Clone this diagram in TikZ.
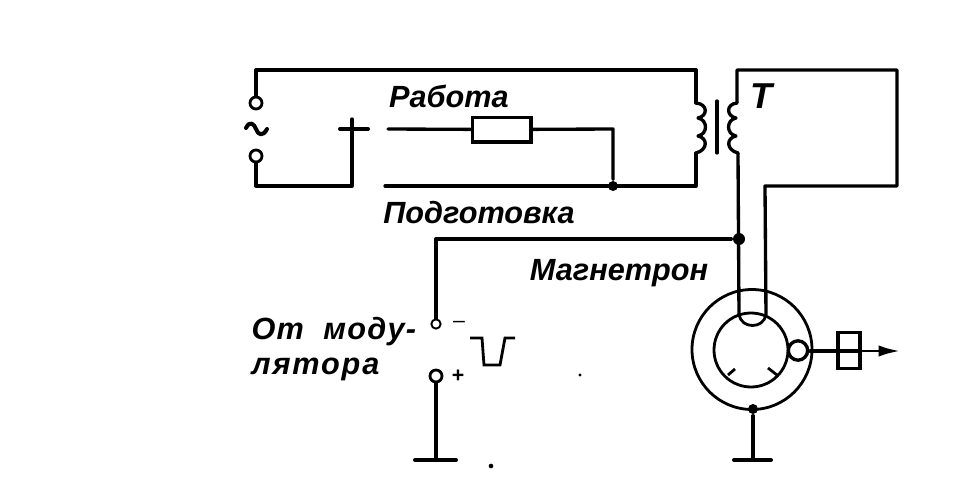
\documentclass[tikz,border=0pt]{standalone}
\usepackage{fontspec}
\setmainfont{Liberation Sans}
\usetikzlibrary{arrows.meta}
\tikzset{every picture/.style={line width=2.5pt}}
\tikzset{
  wire/.style={line width=2.5pt,line join=round,line cap=round},
  thinwire/.style={line width=2.1pt},
  contact/.style={circle,draw,fill=white,line width=2.1pt,minimum size=9pt,inner sep=0pt},
  smallcontact/.style={contact,line width=1.4pt,minimum size=7pt},
  junction/.style={circle,fill=black,minimum size=7.5pt,inner sep=0pt},
  plate/.style={rectangle,draw,line width=2.5pt,inner sep=0pt},
  speck/.style={circle,fill=black,minimum size=2.5pt,inner sep=0pt},
  lettering/.style={inner sep=0pt,font=\fontsize{23}{26}\selectfont\bfseries\itshape},
}

\begin{document}
\begin{tikzpicture}[x=0.75pt,y=0.75pt,yscale=-1,xscale=1]
\useasboundingbox (0,0) rectangle (976,496);

%Points of the supply side
\coordinate (topleft) at (256,70);
\coordinate (botleft) at (256,186);
\coordinate (botswitch) at (352,186);
\coordinate (switchtop) at (352,119);
\coordinate (crossl) at (340,129);
\coordinate (crossr) at (368,129);
\coordinate (workin) at (388,129);
\coordinate (workcorner) at (613,129);
\coordinate (prepin) at (385,186);
\coordinate (primtop) at (696,70);
\coordinate (primup) at (696,103);
\coordinate (primdown) at (696,153);
\coordinate (primbot) at (696,186);
%Points of the secondary side
\coordinate (sectop) at (737,70);
\coordinate (secup) at (737,103);
\coordinate (secdown) at (738,153);
\coordinate (secright) at (897,70);
\coordinate (secrbot) at (897,186);
\coordinate (tubecorner) at (765,186);
\coordinate (heatl) at (739,315);
\coordinate (heatr) at (766,315);
\coordinate (modcorner) at (436,239);
\coordinate (coreup) at (717,101);
\coordinate (coredown) at (717,153);
\coordinate (gndone) at (436,460);
\coordinate (gndonel) at (415,460);
\coordinate (gndoner) at (456,460);
\coordinate (gndtwo) at (753,460);
\coordinate (gndtwol) at (734,460);
\coordinate (gndtwor) at (771,460);
\coordinate (outstart) at (810,351);
\coordinate (outend) at (900,351);

%Terminals, joints and boxes
\node [contact] (acup) at (256,103) {};
\node [contact] (acdown) at (256,156) {};
\node [plate,minimum width=44pt,minimum height=18.5pt] (resistor) at (501.5,129.5) {};
\node [junction] (prepjoint) at (613,186) {};
\node [junction,minimum size=9pt] (modjoint) at (739,239) {};
\node [smallcontact] (modminus) at (436,324) {};
\node [contact] (modplus) at (436,376) {};
\node [junction] (anodejoint) at (753,409) {};
\node [circle,draw,line width=2.1pt,minimum size=90pt,inner sep=0pt] (anode) at (752,349.5) {};
\node [circle,draw,line width=2.1pt,minimum size=55.5pt,inner sep=0pt] (cavity) at (751,350) {};
\node [circle,draw,line width=2.5pt,minimum size=14.5pt,inner sep=0pt] (loop) at (798,350.5) {};
\node [plate,minimum width=16.5pt,minimum height=27pt] (window) at (849,350.5) {};
\node [speck] (speckone) at (580,375) {};
\node [speck,minimum size=3.5pt] (specktwo) at (491,466) {};

%Supply loop
\draw [wire] (acup) -- (topleft) -- (primtop) -- (primup);
\draw [wire] (acdown) -- (botleft) -- (botswitch) -- (switchtop);
\draw [wire,line width=3pt] (crossl) -- (crossr);
\draw [wire] (workin) -- (resistor);
\draw [wire] (resistor) -- (workcorner) -- (prepjoint);
\draw [wire] (prepin) -- (primbot) -- (primdown);

%Transformer windings
\draw [wire] (primup) .. controls (708,104) and (708,116) .. (698,118) .. controls (708,120) and (708,134) .. (698,136) .. controls (708,138) and (708,150) .. (primdown);
\draw [wire] (secup) .. controls (726,104) and (726,116) .. (736,118) .. controls (726,120) and (726,134) .. (736,136) .. controls (726,138) and (726,150) .. (secdown);
\draw [wire] (coreup) -- (coredown);

%Secondary and heater leads
\draw [wire] (secup) -- (sectop) -- (secright) -- (secrbot) -- (tubecorner) -- (heatr);
\draw [wire] (secdown) -- (heatl);
\draw [thinwire] (heatl) .. controls (742,329) and (763,329) .. (heatr);

%Modulator leads
\draw [wire] (modjoint) -- (modcorner) -- (modminus);
\draw [wire,line width=3pt] (modplus) -- (gndone);
\draw [wire,line width=3pt] (gndonel) -- (gndoner);
\draw [thinwire] (470,338) -- (482,338) -- (484,365) -- (500,365) -- (505,338) -- (515,338);

%Magnetron details
\draw [thinwire] (728,375) -- (735,369);
\draw [thinwire] (777,375) -- (768,368);
\draw [wire] (anodejoint) -- (gndtwo);
\draw [wire,line width=3pt] (gndtwol) -- (gndtwor);
\draw [wire] (outstart) -- (860,351);
\draw [thinwire,-{Latex[length=16pt,width=8.5pt]}] (860,351) -- (outend);

%Mains symbol
\draw [wire,line width=3pt] (246,128) .. controls (250,120) and (254,124) .. (256,129) .. controls (258,135) and (263,137) .. (267,129);

% Text Node
\node [lettering] (work) at (449,96) {Работа};
\node [lettering] (prep) at (479,213) {Подготовка};
\node [lettering] (magn) at (619,273) {Магнетрон};
\node [lettering,anchor=west] (fromone) at (250,332) {\addfontfeatures{LetterSpace=4}От\ \ моду-};
\node [lettering,anchor=west] (fromtwo) at (250,369) {\addfontfeatures{LetterSpace=6}лятора};
\node [lettering,font=\fontsize{27}{30}\selectfont\bfseries\itshape] (tname) at (761,96) {T};
\node [inner sep=0pt,font=\fontsize{16}{18}\selectfont\bfseries] (plus) at (458,376) {+};
\node [inner sep=0pt,font=\fontsize{16}{18}\selectfont] (minus) at (459,324) {–};

\end{tikzpicture}
\end{document}
